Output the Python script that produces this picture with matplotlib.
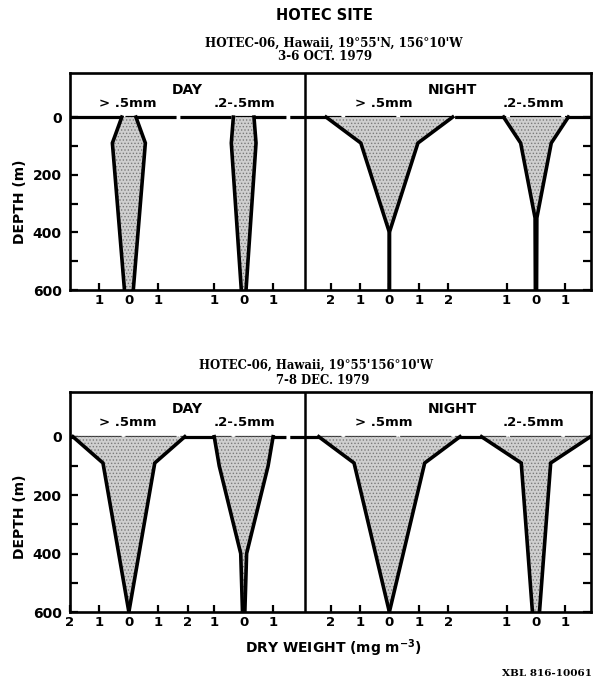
import numpy as np
import matplotlib.pyplot as plt

plt.rcParams['font.family'] = ['DejaVu Sans']
plt.rcParams['font.weight'] = 'bold'
plt.rcParams['hatch.color'] = '#7a7a7a'
plt.rcParams['hatch.linewidth'] = 0.6

# depth (m) and half-width (mg m^-3) of each kite
oct_day_large_depth = [0, 90, 600]
oct_day_large = [0.24, 0.56, 0.15]
oct_day_small_depth = [0, 90, 600]
oct_day_small = [0.35, 0.42, 0.08]
oct_night_large_depth = [0, 90, 400, 600]
oct_night_large = [2.15, 0.97, 0.0, 0.0]
oct_night_small_depth = [0, 90, 350, 600]
oct_night_small = [1.1, 0.52, 0.03, 0.02]

dec_day_large_depth = [0, 90, 600]
dec_day_large = [1.9, 0.88, 0.0]
dec_day_small_depth = [0, 100, 400, 600]
dec_day_small = [1.0, 0.83, 0.1, 0.04]
dec_night_large_depth = [0, 90, 600]
dec_night_large = [2.4, 1.2, 0.0]
dec_night_small_depth = [0, 90, 600]
dec_night_small = [1.85, 0.5, 0.12]

size_labels = ['> .5mm', '.2-.5mm', '> .5mm', '.2-.5mm']
oct_ticks = [[1, 0, 1], [1, 0, 1], [2, 1, 0, 1, 2], [1, 0, 1]]
dec_ticks = [[2, 1, 0, 1, 2], [1, 0, 1], [2, 1, 0, 1, 2], [1, 0, 1]]
depth_ticks = [0, 200, 400, 600]

W, H = 593, 681
centers = [2.0, 5.9, 10.85, 15.83]
label_x = [1.95, 5.93, 10.65, 15.75]

fig = plt.figure(figsize=(W / 100, H / 100), dpi=100)


def px(x, y):
    return x / W, 1 - y / H


def panel(top, bottom, profiles, ticks):
    l, b = px(70, bottom)
    ax = fig.add_axes([l, b, (591 - 70) / W, (bottom - top) / H])
    for c, (d, w) in zip(centers, profiles):
        d = np.array(d)
        w = np.array(w)
        ax.fill_betweenx(d, c - w, c + w, facecolor='#cfcfcf', hatch='.....',
                         edgecolor='none', lw=0, zorder=2)
        ax.plot(c - w, d, color='k', lw=2.6, zorder=3, solid_joinstyle='miter')
        ax.plot(c + w, d, color='k', lw=2.6, zorder=3, solid_joinstyle='miter')
    ax.axhline(0, color='k', lw=2.3, dashes=(16, 1.2), zorder=1)
    ax.axvline(7.97, color='k', lw=1.8)
    ax.set_xlim(0, 17.7)
    ax.set_ylim(600, -153)
    xt, xl = [], []
    for c, tk in zip(centers, ticks):
        n = len(tk) // 2
        for i, v in enumerate(tk):
            xt.append(c + (i - n))
            xl.append(str(v))
    ax.set_xticks(xt)
    ax.set_xticklabels(xl, fontsize=9.5, fontweight='bold')
    ax.set_yticks(depth_ticks)
    ax.set_yticklabels([str(v) for v in depth_ticks], fontsize=10, fontweight='bold')
    ax.set_yticks([100, 300, 500], minor=True)
    ax.tick_params(axis='x', direction='in', length=5, width=1.6, pad=3)
    ax.tick_params(axis='y', which='both', direction='in', length=6, width=1.6,
                   right=True, pad=6)
    for s in ax.spines.values():
        s.set_linewidth(1.9)
    return ax


ax1 = panel(73, 290, [(oct_day_large_depth, oct_day_large),
                      (oct_day_small_depth, oct_day_small),
                      (oct_night_large_depth, oct_night_large),
                      (oct_night_small_depth, oct_night_small)], oct_ticks)
ax2 = panel(392, 612, [(dec_day_large_depth, dec_day_large),
                       (dec_day_small_depth, dec_day_small),
                       (dec_night_large_depth, dec_night_large),
                       (dec_night_small_depth, dec_night_small)], dec_ticks)

for ax in (ax1, ax2):
    ax.text(3.97, -95, 'DAY', ha='center', va='center', fontsize=10, fontweight='bold')
    ax.text(13.0, -95, 'NIGHT', ha='center', va='center', fontsize=10, fontweight='bold')
    for x, s in zip(label_x, size_labels):
        ax.text(x, -47, s, ha='center', va='center', fontsize=9.5, fontweight='bold')

serif = dict(family='DejaVu Serif', fontweight='bold', ha='center', va='center')
fig.text(*px(324, 15), 'HOTEC SITE', fontsize=10.5, fontweight='bold', ha='center', va='center')
fig.text(*px(334, 43), "HOTEC-06, Hawaii, 19°55'N, 156°10'W", fontsize=8.6, **serif)
fig.text(*px(325, 56), '3-6 OCT. 1979', fontsize=8.6, **serif)
fig.text(*px(316, 365), "HOTEC-06, Hawaii, 19°55'156°10'W", fontsize=8.4, **serif)
fig.text(*px(323, 380), '7-8 DEC. 1979', fontsize=8.4, **serif)

fig.text(*px(20, 202), 'DEPTH (m)', rotation=90, fontsize=10, fontweight='bold', ha='center', va='center')
fig.text(*px(20, 517), 'DEPTH (m)', rotation=90, fontsize=10, fontweight='bold', ha='center', va='center')
fig.text(*px(333, 648), 'DRY WEIGHT (mg m$^{\\mathbf{-3}}$)', fontsize=10, fontweight='bold',
         ha='center', va='center')
fig.text(*px(592, 673), 'XBL 816-10061', family='DejaVu Serif', fontweight='bold',
         fontsize=7.5, ha='right', va='center')

fig.savefig('out.png', dpi=100)
